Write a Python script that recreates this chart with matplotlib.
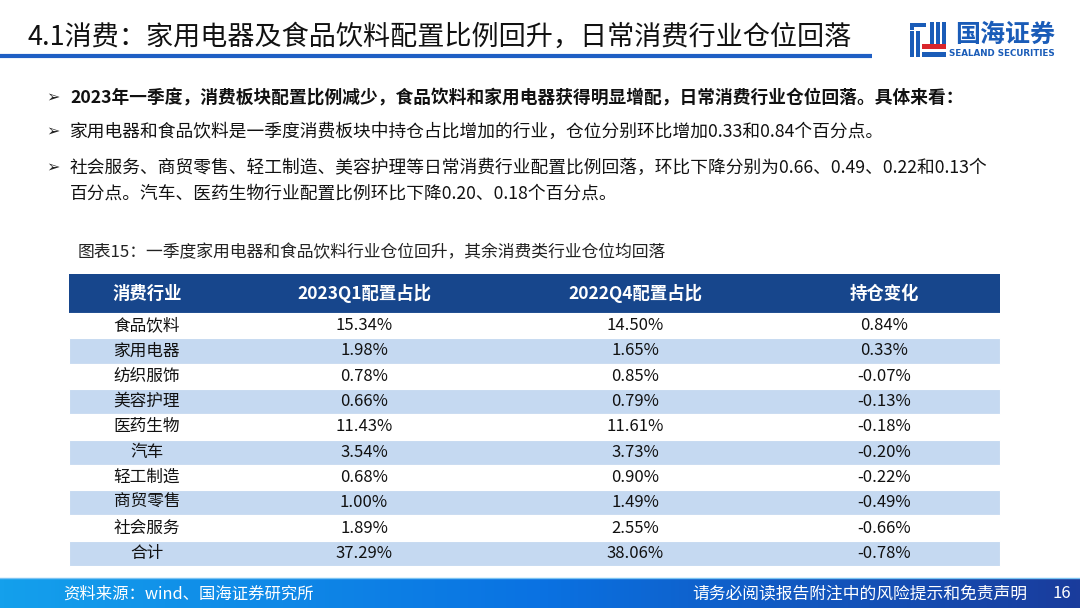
import numpy as np
import matplotlib.pyplot as plt
from matplotlib.patches import Rectangle, Polygon
from matplotlib.colors import LinearSegmentedColormap

plt.rcParams['font.family'] = ['Noto Sans CJK SC', 'DejaVu Sans']

# slide texts
title = "4.1消费：家用电器及食品饮料配置比例回升，日常消费行业仓位回落"
bullets = [
    "2023年一季度，消费板块配置比例减少，食品饮料和家用电器获得明显增配，日常消费行业仓位回落。具体来看：",
    "家用电器和食品饮料是一季度消费板块中持仓占比增加的行业，仓位分别环比增加0.33和0.84个百分点。",
    "社会服务、商贸零售、轻工制造、美容护理等日常消费行业配置比例回落，环比下降分别为0.66、0.49、0.22和0.13个\n百分点。汽车、医药生物行业配置比例环比下降0.20、0.18个百分点。",
]
caption = "图表15：一季度家用电器和食品饮料行业仓位回升，其余消费类行业仓位均回落"
source = "资料来源：wind、国海证券研究所"
disclaimer = "请务必阅读报告附注中的风险提示和免责声明"
page_no = "16"

# table data
headers = ["消费行业", "2023Q1配置占比", "2022Q4配置占比", "持仓变化"]
industries = ["食品饮料", "家用电器", "纺织服饰", "美容护理", "医药生物",
              "汽车", "轻工制造", "商贸零售", "社会服务", "合计"]
share_2023q1 = [15.34, 1.98, 0.78, 0.66, 11.43, 3.54, 0.68, 1.00, 1.89, 37.29]
share_2022q4 = [14.50, 1.65, 0.85, 0.79, 11.61, 3.73, 0.90, 1.49, 2.55, 38.06]
change = [0.84, 0.33, -0.07, -0.13, -0.18, -0.20, -0.22, -0.49, -0.66, -0.78]

W, H = 1080, 608
fig = plt.figure(figsize=(W / 100, H / 100), dpi=100)
ax = fig.add_axes([0, 0, 1, 1])
ax.set_xlim(0, W)
ax.set_ylim(H, 0)
ax.axis('off')

# title + underline
ax.text(27, 37, title, fontsize=19.5, color='#111111', va='center', ha='left')
ax.plot([0, 872], [56, 56], color='#1f5fc4', lw=3, solid_capstyle='butt')

# logo (rough)
blue = '#1a5cb8'
ax.add_patch(Polygon([[910, 23], [926, 23], [926, 27], [914, 27], [914, 30], [910, 30]], color=blue, lw=0))
for x0 in [910, 916]:
    ax.add_patch(Rectangle((x0, 31), 3.5, 26, color=blue, lw=0))
for x0 in [930, 936, 942]:
    ax.add_patch(Rectangle((x0, 22), 3.5, 22, color=blue, lw=0))
ax.add_patch(Rectangle((922, 44), 24, 5, color='#d9252b', lw=0))
ax.add_patch(Rectangle((922, 52), 24, 5, color=blue, lw=0))
ax.text(955, 35, "国海证券", fontsize=18, fontweight='bold', color=blue, va='center', ha='left')
ax.text(1055, 53.5, "SEALAND SECURITIES", fontsize=6.3, fontweight='bold', color=blue,
        va='center', ha='right', family='DejaVu Sans')

# bullets
bullet_y = [98, 132, 168]
for i, (txt, y) in enumerate(zip(bullets, bullet_y)):
    ax.text(46, y, "➢", fontsize=11.5, color='#222222', va='center', ha='left', family='DejaVu Sans')
    lines = txt.split('\n')
    for k, line in enumerate(lines):
        ax.text(70, y + k * 26, line, fontsize=12.75, color='#111111', va='center', ha='left',
                fontweight='bold' if i == 0 else 'normal')

# caption
ax.text(78, 253, caption, fontsize=12.1, color='#222222', va='center', ha='left')

# table
tx0, tx1 = 69, 1000
head_top, head_h = 274, 39
row_h = 25.3
col_x = [147, 364, 635, 884]
ax.add_patch(Rectangle((tx0, head_top), tx1 - tx0, head_h, color='#17468c', lw=0))
for cx, h in zip(col_x, headers):
    ax.text(cx, head_top + head_h / 2, h, fontsize=12.5, fontweight='bold', color='white',
            va='center', ha='center')

for i, name in enumerate(industries):
    y0 = head_top + head_h + i * row_h
    face = '#c5d9f1' if i % 2 == 1 else 'white'
    ax.add_patch(Rectangle((tx0, y0), tx1 - tx0, row_h, facecolor=face, edgecolor='white', lw=0.8))
    yc = y0 + row_h / 2
    vals = [name, f"{share_2023q1[i]:.2f}%", f"{share_2022q4[i]:.2f}%", f"{change[i]:.2f}%"]
    for cx, v in zip(col_x, vals):
        ax.text(cx, yc, v, fontsize=12, color='#111111', va='center', ha='center')

# footer gradient band
grad = np.linspace(0, 1, 256).reshape(1, -1)
cmap = LinearSegmentedColormap.from_list('foot', ['#14a0ec', '#0a72e2', '#1a3c9c'])
ax.imshow(grad, extent=[0, W, H, 578], aspect='auto', cmap=cmap, zorder=0)
ax.plot([0, W], [578, 578], color='#7cc4f2', lw=1)
ax.set_xlim(0, W)
ax.set_ylim(H, 0)
ax.text(63, 594, source, fontsize=11.8, color='white', va='center', ha='left')
ax.text(1027, 594, disclaimer, fontsize=12.1, color='white', va='center', ha='right')
ax.text(1062, 594, page_no, fontsize=12, color='white', va='center', ha='center')

fig.savefig('out.png', dpi=100)
